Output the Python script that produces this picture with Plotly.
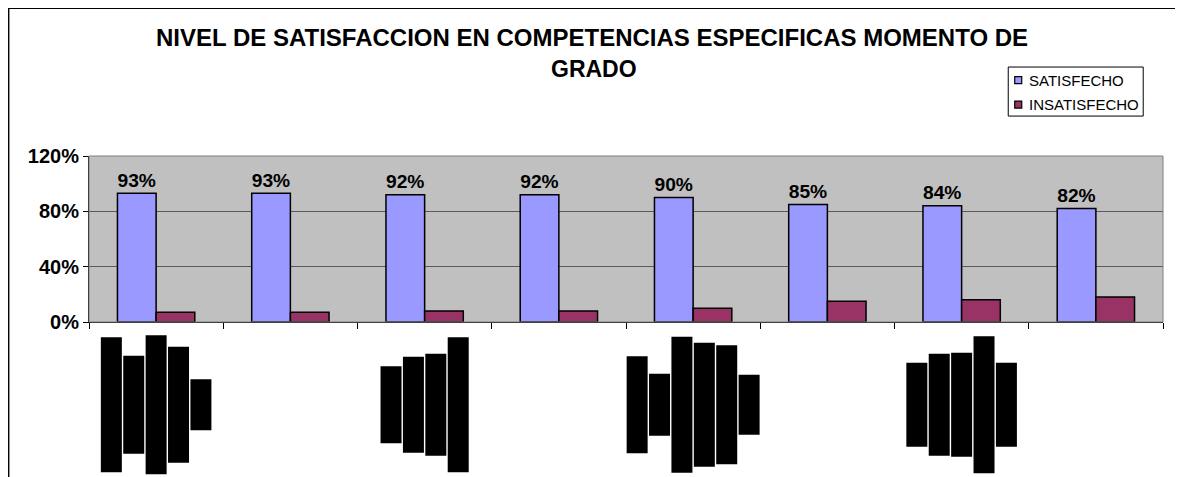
import plotly.graph_objects as go

# values
categories = ["1", "2", "3", "4", "5", "6", "7", "8"]
satisfecho = [93, 93, 92, 92, 90, 85, 84, 82]
insatisfecho = [7, 7, 8, 8, 10, 15, 16, 18]
sat_labels = ["93%", "93%", "92%", "92%", "90%", "85%", "84%", "82%"]
series_names = ["SATISFECHO", "INSATISFECHO"]
series_colors = ["#9999FF", "#993366"]

# the category labels print as unreadable black blocks (rotated text lines);
# category index -> length in px of each block
label_blocks = {
    0: [135, 98, 139, 116, 51],
    2: [77, 96, 102, 135],
    4: [97, 62, 136, 124, 119, 60],
    6: [84, 102, 104, 137, 84],
}

# page has an 8px body margin, so the figure sits at (8, 8)
OFF = 8
W, H = 1183 - OFF, 477 - OFF
# plot area in page pixels
PL, PR, PT, PB = 89, 1163.3, 156.4, 322.3
L, R, T, B = PL - OFF, W - (PR - OFF), PT - OFF, H - (PB - OFF)
pw, ph = PR - PL, PB - PT


def px(x):
    return (x - PL) / pw


def py(y):
    return (PB - y) / ph


font = "Arial, Liberation Sans, sans-serif"

fig = go.Figure()
fig.add_trace(go.Bar(
    x=categories, y=satisfecho, name=series_names[0],
    marker=dict(color=series_colors[0], line=dict(color="black", width=1.5)),
    text=sat_labels, textposition="outside", cliponaxis=False,
    textfont=dict(family=font, size=20, color="black", weight="bold"),
))
fig.add_trace(go.Bar(
    x=categories, y=insatisfecho, name=series_names[1],
    marker=dict(color=series_colors[1], line=dict(color="black", width=1.5)),
))

shapes = [
    # chart frame
    dict(type="rect", xref="paper", yref="paper",
         x0=px(OFF + 0.7), x1=px(1177), y0=py(500), y1=py(OFF + 0.7),
         line=dict(color="black", width=1.4), layer="above"),
    # plot area border
    dict(type="rect", xref="paper", yref="paper", x0=0, x1=1, y0=0, y1=1,
         line=dict(color="#808080", width=1), layer="above"),
    # legend box
    dict(type="rect", xref="paper", yref="paper",
         x0=px(1008.5), x1=px(1143.5), y0=py(116.5), y1=py(67.5),
         line=dict(color="black", width=1), fillcolor="white"),
]
annotations = [
    dict(text="<b>NIVEL DE SATISFACCION EN COMPETENCIAS ESPECIFICAS MOMENTO DE</b>",
         xref="paper", yref="paper", x=px(592), y=py(38),
         xanchor="center", yanchor="middle", showarrow=False,
         font=dict(size=24)),
    dict(text="<b>GRADO</b>",
         xref="paper", yref="paper", x=px(594), y=py(69),
         xanchor="center", yanchor="middle", showarrow=False,
         font=dict(size=23)),
]
# legend entries
for k, (name, col) in enumerate(zip(series_names, series_colors)):
    cy = 80.5 + k * 24.5
    shapes.append(dict(
        type="rect", xref="paper", yref="paper",
        x0=px(1015), x1=px(1022), y0=py(cy + 3.5), y1=py(cy - 3.5),
        fillcolor=col, line=dict(color="black", width=1.2),
    ))
    annotations.append(dict(
        text=name, xref="paper", yref="paper", x=px(1027), y=py(cy),
        xanchor="left", yanchor="middle", showarrow=False,
        font=dict(size=15),
    ))

pitch, bw = 22.4, 21
for idx, lens in label_blocks.items():
    cx = PL + (idx + 0.5) * pw / len(categories)
    n = len(lens)
    for k, h in enumerate(lens):
        x0 = cx + (k - n / 2) * pitch + (pitch - bw) / 2
        shapes.append(dict(
            type="rect", xref="paper", yref="paper",
            x0=px(x0), x1=px(x0 + bw), y0=py(405 + h / 2), y1=py(405 - h / 2),
            fillcolor="black", line=dict(width=0),
        ))

fig.update_layout(
    width=W, height=H,
    margin=dict(l=L, r=R, t=T, b=B, pad=0),
    paper_bgcolor="white", plot_bgcolor="#C0C0C0",
    barmode="group", bargap=0.424, bargroupgap=0,
    font=dict(family=font, color="black"),
    showlegend=False,
    shapes=shapes,
    annotations=annotations,
)
fig.update_xaxes(
    showticklabels=False, ticks="outside", tickson="boundaries", ticklen=6,
    tickcolor="black", showline=True, linecolor="black", linewidth=1.3,
    showgrid=False,
)
fig.update_yaxes(
    range=[0, 120], tickvals=[0, 40, 80, 120],
    ticktext=["0%", "40%", "80%", "120%"],
    tickfont=dict(size=20, weight="bold"),
    ticks="outside", ticklen=5, tickcolor="black",
    showline=True, linecolor="black", linewidth=1,
    showgrid=True, gridcolor="#5a5a5a", gridwidth=1, zeroline=False,
)

fig.write_html("out.html")
